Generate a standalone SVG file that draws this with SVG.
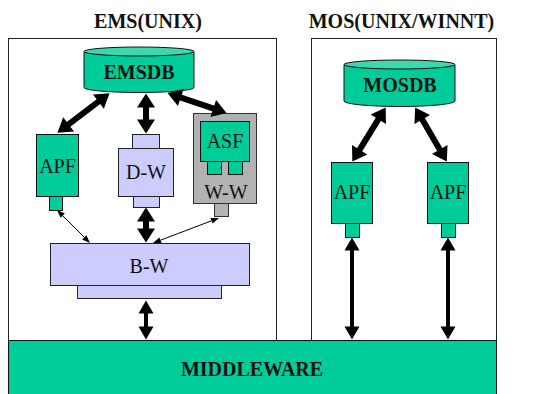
<svg xmlns="http://www.w3.org/2000/svg" width="560" height="394" viewBox="0 0 560 394">
  <style>
    .frame { fill: #ffffff; stroke: #222222; stroke-width: 1; }
    .green { fill: #00cc99; stroke: #111111; stroke-width: 1; }
    .lilac { fill: #ccccff; stroke: #222222; stroke-width: 1; }
    .grey { fill: #b2b2b2; stroke: #333333; stroke-width: 1; }
    .dbtop { fill: #3dd9ae; stroke: #111111; stroke-width: 1; }
    .title { font-family: "Liberation Serif", "Times New Roman", serif; font-size: 20px; font-weight: bold; fill: #111111; text-anchor: middle; }
    .label { font-family: "Liberation Serif", "Times New Roman", serif; font-size: 20px; fill: #111111; text-anchor: middle; }
    .thick { stroke: #000000; stroke-width: 6; fill: none; marker-start: url(#headBig); marker-end: url(#headBig); }
    .medium { stroke: #000000; stroke-width: 4; fill: none; marker-start: url(#headMed); marker-end: url(#headMed); }
    .thin { stroke: #000000; stroke-width: 1; fill: none; marker-start: url(#headSmall); marker-end: url(#headSmall); }
  </style>
  <defs>
    <marker id="headBig" markerUnits="userSpaceOnUse" markerWidth="16" markerHeight="20" refX="0.5" refY="9" orient="auto-start-reverse" overflow="visible">
      <path d="M0,0 L14,9 L0,18 Z" fill="#000000"/>
    </marker>
    <marker id="headMed" markerUnits="userSpaceOnUse" markerWidth="15" markerHeight="16" refX="0.5" refY="7.5" orient="auto-start-reverse" overflow="visible">
      <path d="M0,0 L13,7.5 L0,15 Z" fill="#000000"/>
    </marker>
    <marker id="headSmall" markerUnits="userSpaceOnUse" markerWidth="9" markerHeight="7" refX="0" refY="3" orient="auto-start-reverse" overflow="visible">
      <path d="M0,0 L8,3 L0,6 Z" fill="#000000"/>
    </marker>
  </defs>

  <!-- system frames -->
  <g id="ems">
    <rect class="frame" x="8.5" y="38.5" width="268" height="320"/>
    <text class="title" x="148" y="28">EMS(UNIX)</text>
  </g>
  <g id="mos">
    <rect class="frame" x="311.5" y="38.5" width="185" height="320"/>
    <text class="title" x="401.5" y="28">MOS(UNIX/WINNT)</text>
  </g>

  <!-- EMS components -->
  <g id="emsdb">
    <path class="green" d="M84,51.5 L84,87.5 A55,5 0 0 0 194,87.5 L194,51.5 Z"/>
    <ellipse class="dbtop" cx="139" cy="51.5" rx="55" ry="4.5"/>
    <text class="title" x="139" y="79">EMSDB</text>
  </g>

  <g id="ems-apf">
    <rect class="green" x="49.5" y="196.5" width="13" height="14"/>
    <rect class="green" x="36.5" y="134.5" width="42" height="62"/>
    <text class="label" x="57.5" y="173">APF</text>
  </g>

  <g id="dw">
    <rect class="lilac" x="132.5" y="134.5" width="27" height="14"/>
    <rect class="lilac" x="133.5" y="196.5" width="26" height="11"/>
    <rect class="lilac" x="118.5" y="148.5" width="55" height="48"/>
    <text class="label" x="146" y="179">D-W</text>
  </g>

  <g id="ww">
    <rect class="grey" x="214.5" y="203.5" width="14" height="13"/>
    <rect class="grey" x="193.5" y="113.5" width="63" height="90"/>
    <text class="label" x="226" y="199">W-W</text>
  </g>

  <g id="asf">
    <rect class="green" x="207.5" y="161.5" width="14" height="13"/>
    <rect class="green" x="228.5" y="161.5" width="14" height="13"/>
    <rect class="green" x="200.5" y="121.5" width="49" height="40"/>
    <text class="label" x="225" y="148">ASF</text>
  </g>

  <g id="bw">
    <rect class="lilac" x="77.5" y="285.5" width="144" height="13"/>
    <rect class="lilac" x="50.5" y="243.5" width="199" height="42"/>
    <text class="label" x="149" y="273">B-W</text>
  </g>

  <!-- MOS components -->
  <g id="mosdb">
    <path class="green" d="M344,64.5 L344,101 A55.5,5.5 0 0 0 455,101 L455,64.5 Z"/>
    <ellipse class="dbtop" cx="399.5" cy="64.5" rx="55.5" ry="4.5"/>
    <text class="title" x="400" y="92">MOSDB</text>
  </g>

  <g id="mos-apf-1">
    <rect class="green" x="345.5" y="223.5" width="14" height="14"/>
    <rect class="green" x="331.5" y="162.5" width="41" height="61"/>
    <text class="label" x="352" y="199">APF</text>
  </g>

  <g id="mos-apf-2">
    <rect class="green" x="441.5" y="223.5" width="14" height="14"/>
    <rect class="green" x="427.5" y="162.5" width="41" height="61"/>
    <text class="label" x="448" y="199">APF</text>
  </g>

  <!-- shared bus -->
  <g id="middleware">
    <rect class="green" x="8.5" y="340.5" width="488" height="60"/>
    <text class="title" x="252" y="376">MIDDLEWARE</text>
  </g>

  <!-- connectors -->
  <g id="connectors">
    <line class="thick" x1="68.2" y1="124.6" x2="98.8" y2="101.4"/>
    <line class="thick" x1="146" y1="107" x2="146" y2="120"/>
    <line class="thick" x1="180.3" y1="97.4" x2="213.7" y2="108.6"/>
    <line class="thick" x1="146" y1="221" x2="146" y2="229"/>
    <line class="thin" x1="62.7" y1="215.7" x2="84.3" y2="237.3"/>
    <line class="thin" x1="211.5" y1="220.8" x2="160.5" y2="240.2"/>
    <line class="medium" x1="146" y1="313" x2="146" y2="327"/>
    <line class="thick" x1="378.6" y1="118.9" x2="359.4" y2="150.1"/>
    <line class="thick" x1="422.0" y1="119.1" x2="440.0" y2="149.9"/>
    <line class="medium" x1="352" y1="250" x2="352" y2="327"/>
    <line class="medium" x1="448" y1="250" x2="448" y2="327"/>
  </g>
</svg>
